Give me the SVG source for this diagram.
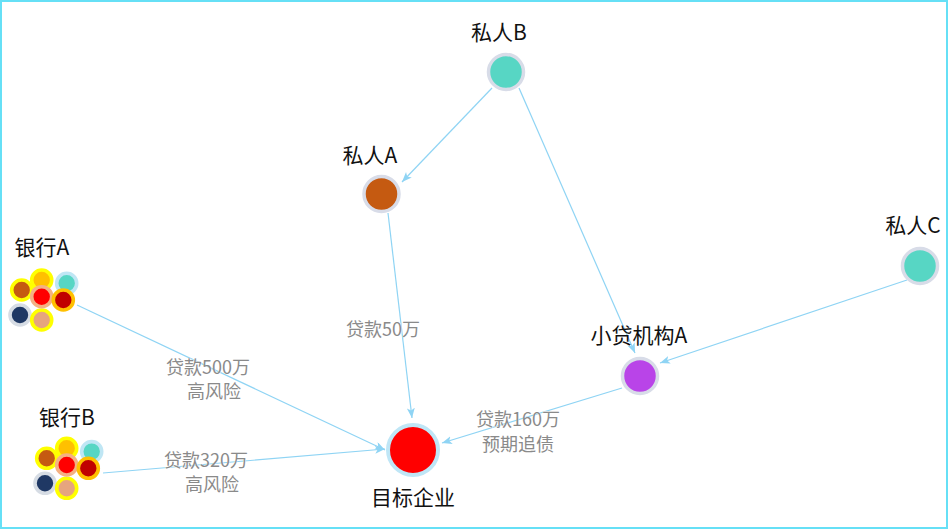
<svg xmlns="http://www.w3.org/2000/svg" width="950" height="530" viewBox="0 0 950 530">
<style>
.frame{fill:#fff;stroke:#66e0f6;stroke-width:2}
.edge{stroke:#8fd4f4;stroke-width:1.2;fill:none;marker-end:url(#arr)}
.nl{font-family:"Noto Sans CJK SC","Noto Sans",sans-serif;font-size:21px;fill:#111;text-anchor:middle}
.el{font-family:"Noto Sans CJK SC","Noto Sans",sans-serif;font-size:18px;fill:#8a8a8a;text-anchor:middle;stroke:#fff;stroke-width:0.6;paint-order:stroke}
.node{stroke:#d8dce8;stroke-width:3.5}
.sm{stroke-width:3.6}
</style>
<defs>
<marker id="arr" markerUnits="userSpaceOnUse" markerWidth="12" markerHeight="10" refX="10" refY="4" orient="auto">
<path d="M0,0 L10,4 L0,8 L2.5,4 z" fill="#8fd4f4"/>
</marker>
<g id="cluster">
<circle class="sm" cx="0" cy="0" r="10" fill="#ffc000" stroke="#ffff00"/>
<circle class="sm" cx="25" cy="3.3" r="10" fill="#57d6c4" stroke="#bfe6f4"/>
<circle class="sm" cx="-20" cy="10" r="10" fill="#c55a11" stroke="#ffff00"/>
<circle class="sm" cx="-21.7" cy="35" r="10" fill="#1f3864" stroke="#d6dce4"/>
<circle class="sm" cx="0" cy="40" r="10" fill="#e6a57e" stroke="#ffff00"/>
<circle class="sm" cx="0" cy="16.7" r="10" fill="#ff0000" stroke="#f4b183"/>
<circle class="sm" cx="21.6" cy="20" r="10" fill="#c00000" stroke="#ffc000"/>
</g>
</defs>
<rect class="frame" x="1" y="1" width="946" height="527"/>
<g id="edges">
<line class="edge" x1="492" y1="88" x2="402" y2="182"/>
<line class="edge" x1="519" y1="88" x2="635" y2="353"/>
<line class="edge" x1="388" y1="213" x2="412" y2="418"/>
<line class="edge" x1="907" y1="280" x2="660" y2="363"/>
<line class="edge" x1="622" y1="388" x2="442" y2="443"/>
<line class="edge" x1="77" y1="305" x2="385" y2="450"/>
<line class="edge" x1="103" y1="473" x2="385" y2="449"/>
</g>
<g id="edge-labels">
<text class="el" x="208" y="374">贷款500万</text>
<text class="el" x="214" y="398">高风险</text>
<text class="el" x="206" y="467">贷款320万</text>
<text class="el" x="212" y="491">高风险</text>
<text class="el" x="383" y="336">贷款50万</text>
<text class="el" x="518" y="426">贷款160万</text>
<text class="el" x="518" y="451">预期追债</text>
</g>
<g id="n-privB">
<circle class="node" cx="506" cy="72" r="17.5" fill="#57d6c4"/>
<text class="nl" x="499" y="40">私人B</text>
</g>
<g id="n-privA">
<circle class="node" cx="381.5" cy="194" r="17.5" fill="#c55a11"/>
<text class="nl" x="370" y="163">私人A</text>
</g>
<g id="n-privC">
<circle class="node" cx="920" cy="266" r="17.5" fill="#57d6c4"/>
<text class="nl" x="913" y="233">私人C</text>
</g>
<g id="n-loanA">
<circle class="node" cx="640" cy="376" r="17.5" fill="#b944e8"/>
<text class="nl" x="639" y="343">小贷机构A</text>
</g>
<g id="n-target">
<circle cx="413" cy="450" r="25" fill="#ff0000" stroke="#bfe6f6" stroke-width="4"/>
<text class="nl" x="413" y="505">目标企业</text>
</g>
<g id="n-bankA">
<use href="#cluster" x="41.7" y="280"/>
<text class="nl" x="42" y="255">银行A</text>
</g>
<g id="n-bankB">
<use href="#cluster" x="66.7" y="448.3"/>
<text class="nl" x="67" y="425">银行B</text>
</g>
</svg>
